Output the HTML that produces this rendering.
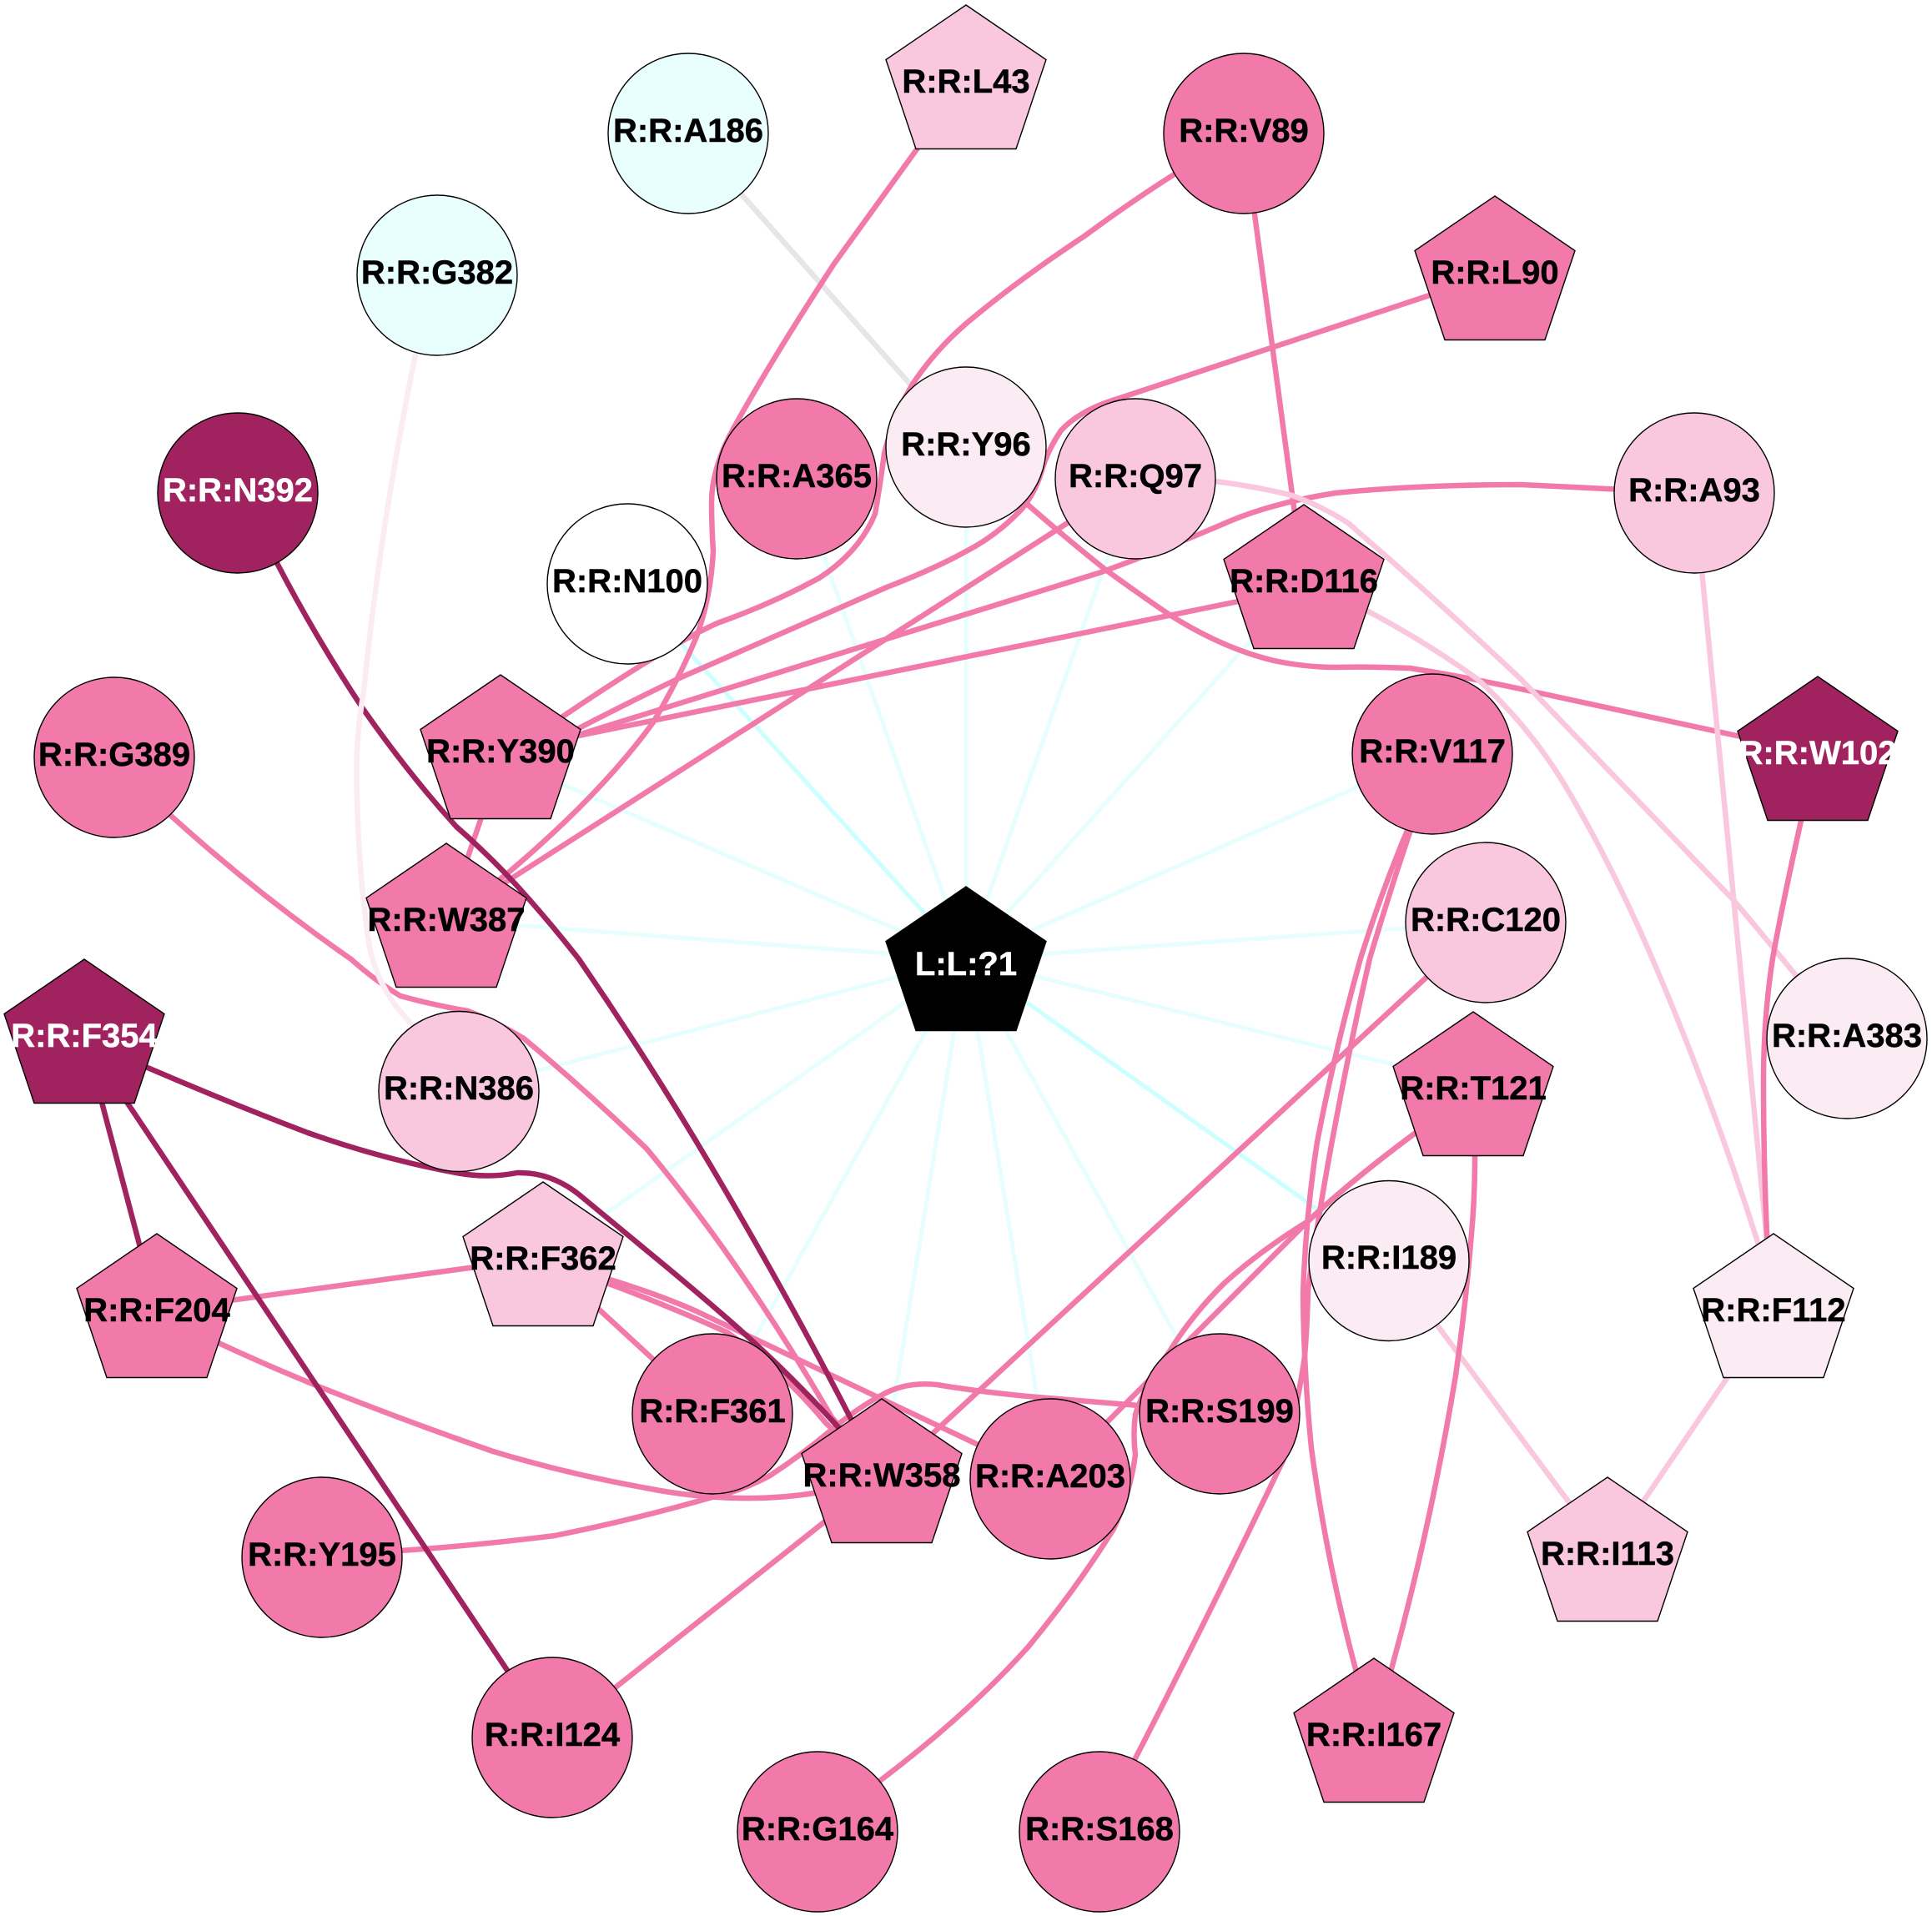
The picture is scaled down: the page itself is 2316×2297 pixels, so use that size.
<!DOCTYPE html>
<html><head><meta charset="utf-8"><style>
html,body{margin:0;padding:0;background:#fff}
svg{display:block}
text{font-family:"Liberation Sans",sans-serif;font-weight:bold;font-size:40px;text-anchor:middle;fill:#000;stroke:#000;stroke-width:.5}
.w{fill:#fff;stroke:#fff}
.e path,.e line{fill:none;stroke-linecap:butt;stroke-linejoin:round}
.c{stroke:#e6fffe;stroke-width:5}
.cs{stroke:#ccffff;stroke-width:5}
.p{stroke:#f27aaa;stroke-width:6.5}
.l{stroke:#f9c8de;stroke-width:6.5}
.v{stroke:#fbecf4;stroke-width:6.5}
.d{stroke:#a0235f;stroke-width:6.5}
.g{stroke:#e6e6e6;stroke-width:6.5}
.n circle,.n polygon{stroke:#000;stroke-width:1.4}
</style></head><body>
<svg width="2316" height="2297" viewBox="0 0 2316 2297" xmlns="http://www.w3.org/2000/svg">
<g class="e">
<line class="c" x1="1158" y1="1150" x2="955" y2="574"/>
<line class="cs" x1="1158" y1="1150" x2="752" y2="700"/>
<line class="c" x1="1158" y1="1150" x2="1158" y2="536"/>
<line class="c" x1="1158" y1="1150" x2="1361" y2="574"/>
<line class="c" x1="1158" y1="1150" x2="1563" y2="697"/>
<line class="c" x1="1158" y1="1150" x2="1717" y2="904"/>
<line class="c" x1="1158" y1="1150" x2="1781" y2="1106"/>
<line class="c" x1="1158" y1="1150" x2="1766" y2="1300"/>
<line class="cs" x1="1158" y1="1150" x2="1665" y2="1511"/>
<line class="c" x1="1158" y1="1150" x2="1462" y2="1695"/>
<line class="c" x1="1158" y1="1150" x2="1259" y2="1773"/>
<line class="c" x1="1158" y1="1150" x2="1057" y2="1770"/>
<line class="c" x1="1158" y1="1150" x2="854" y2="1695"/>
<line class="c" x1="1158" y1="1150" x2="651" y2="1508"/>
<line class="c" x1="1158" y1="1150" x2="550" y2="1308"/>
<line class="c" x1="1158" y1="1150" x2="535" y2="1103"/>
<line class="c" x1="1158" y1="1150" x2="600" y2="908"/>

<line class="g" x1="824" y1="160" x2="1158" y2="536"/>
<path class="p" d="M1158 90 L1099 179 L1000 316 Q925 431 879 514 Q853 562 853 602 Q853 632 855 661 Q852 717 835 763 Q815 812 783 866 Q720 953 606 1049 L535 1103"/>
<path class="p" d="M1491 160 Q1400 209 1300 283 Q1220 336 1158 388 Q1120 421 1093 462 Q1070 501 1060 544 Q1055 582 1049 616 Q1030 662 982 693 Q925 724 860 747 Q800 774 676 858 L600 913"/>
<path class="p" d="M1792 328 L1343 477 Q1295 491 1272 516 Q1255 541 1248 567 Q1240 592 1225 610 Q1195 642 1158 661 Q1120 682 1063 704 L812 814 Q750 844 694 873 L600 913"/>
<path class="p" d="M2031 591 Q1935 586 1823 581 Q1700 581 1601 591 Q1530 602 1476 624 Q1400 657 1320 686 L600 910"/>
<line class="p" x1="1563" y1="705" x2="600" y2="901"/>
<line class="p" x1="1361" y1="575" x2="535" y2="1103"/>
<line class="p" x1="600" y1="913" x2="535" y2="1103"/>
<line class="p" x1="1491" y1="160" x2="1563" y2="697"/>
<path class="p" d="M1158 536 L1232 605 Q1280 647 1324 682 Q1365 712 1402 737 Q1465 777 1527 792 Q1565 800 1601 800 Q1645 799 1690 801 Q1760 812 1837 829 L2179 903"/>
<path class="l" d="M1361 575 L1457 577 Q1510 584 1549 594 Q1585 607 1616 627 Q1720 717 1823 814 L2077 1078 Q2115 1122 2214 1245"/>
<path class="l" d="M1563 697 L1642 734 Q1710 770 1771 814 Q1830 867 1874 938 Q1930 1032 1978 1143 Q2050 1310 2107 1489 L2126 1570"/>
<line class="l" x1="2031" y1="591" x2="2126" y2="1570"/>
<path class="p" d="M2179 903 L2159 984 Q2135 1092 2125 1149 Q2114 1220 2114 1296 Q2114 1390 2118 1479 L2126 1570"/>
<line class="l" x1="2126" y1="1570" x2="1927" y2="1863"/>
<line class="l" x1="1665" y1="1511" x2="1927" y2="1863"/>
<path class="p" d="M1766 1300 L1768 1386 Q1768 1435 1764 1479 Q1757 1565 1745 1649 Q1715 1830 1668 2001 L1647 2080"/>
<path class="p" d="M1717 904 L1686 998 Q1655 1072 1631 1149 Q1600 1260 1579 1369 Q1565 1460 1562 1552 Q1563 1645 1572 1736 Q1590 1870 1625 2001 L1647 2080"/>
<path class="p" d="M1717 904 L1690 998 Q1665 1072 1642 1149 Q1620 1245 1601 1346 Q1582 1445 1568 1546 Q1567 1590 1564 1626 Q1555 1690 1538 1751 Q1450 1935 1361 2108 L1318 2196"/>
<path class="p" d="M1766 1300 L1697 1358 Q1620 1415 1568 1464 L1259 1773"/>
<path class="p" d="M1766 1300 L1697 1358 Q1620 1415 1568 1464 Q1510 1500 1468 1538 Q1430 1575 1402 1620 Q1370 1665 1361 1696 Q1358 1720 1361 1744 Q1355 1790 1335 1833 Q1290 1905 1232 1975 Q1160 2055 1056 2134 L980 2196"/>
<line class="p" x1="1781" y1="1106" x2="1057" y2="1775"/>
<path class="p" d="M1462 1695 L1365 1685 L1232 1674 Q1170 1668 1123 1660 Q1085 1656 1056 1673 Q1025 1690 997 1714 Q960 1745 923 1769 Q890 1787 857 1794 Q760 1822 665 1841 Q570 1853 480 1859 L386 1867"/>
<path class="p" d="M188 1571 L262 1610 Q320 1637 384 1663 Q490 1705 591 1740 Q680 1767 775 1784 Q830 1795 886 1796 Q935 1797 982 1789 L1057 1770"/>
<line class="p" x1="188" y1="1571" x2="651" y2="1508"/>
<path class="p" d="M137 908 L205 978 Q310 1073 421 1150 Q450 1176 480 1194 Q520 1205 561 1212 Q595 1225 628 1245 Q700 1305 775 1377 Q890 1515 997 1699 L1057 1770"/>
<line class="p" x1="651" y1="1508" x2="854" y2="1695"/>
<path class="p" d="M651 1508 L727 1538 Q800 1565 871 1597 Q935 1640 990 1706 L1057 1770"/>
<path class="p" d="M651 1508 L731 1534 Q790 1552 835 1572 L1259 1773"/>
<line class="p" x1="1057" y1="1770" x2="662" y2="2083"/>
<line class="d" x1="101" y1="1242" x2="188" y2="1571"/>
<line class="d" x1="101" y1="1245" x2="662" y2="2083"/>
<path class="d" d="M101 1242 L177 1280 Q275 1322 369 1358 Q460 1390 547 1406 Q585 1413 620 1406 Q660 1405 694 1432 L775 1499 Q825 1540 871 1580 Q940 1640 1004 1710 L1057 1770"/>
<path class="d" d="M285 591 L332 675 Q380 767 436 851 Q490 928 547 991 Q595 1033 635 1079 Q665 1113 694 1150 Q780 1275 857 1406 Q945 1555 1019 1699 L1057 1770"/>
<path class="v" d="M524 330 L498 425 Q455 637 436 829 Q425 892 428 953 Q430 1052 443 1136 Q455 1190 493 1227 L550 1308"/>
</g>
<g class="n">
<circle cx="825" cy="160" r="96" fill="#e8fffe"/>
<circle cx="524" cy="330" r="96" fill="#e8fffe"/>
<circle cx="285" cy="591" r="96" fill="#a0235f"/>
<circle cx="955" cy="574" r="96" fill="#f27aaa"/>
<circle cx="752" cy="700" r="96" fill="#ffffff"/>
<circle cx="137" cy="908" r="96" fill="#f27aaa"/>
<circle cx="1158" cy="536" r="96" fill="#fbecf4"/>
<circle cx="1491" cy="160" r="96" fill="#f27aaa"/>
<circle cx="1361" cy="574" r="96" fill="#f9c8de"/>
<circle cx="2031" cy="591" r="96" fill="#f9c8de"/>
<circle cx="1717" cy="904" r="96" fill="#f27aaa"/>
<circle cx="1781" cy="1106" r="96" fill="#f9c8de"/>
<circle cx="550" cy="1308.5" r="96" fill="#f9c8de"/>
<circle cx="854" cy="1695" r="96" fill="#f27aaa"/>
<circle cx="386" cy="1867" r="96" fill="#f27aaa"/>
<circle cx="662" cy="2083" r="96" fill="#f27aaa"/>
<circle cx="980" cy="2196" r="96" fill="#f27aaa"/>
<circle cx="2214" cy="1245" r="96" fill="#fbecf4"/>
<circle cx="1665" cy="1511.5" r="96" fill="#fbecf4"/>
<circle cx="1462" cy="1695" r="96" fill="#f27aaa"/>
<circle cx="1259" cy="1773" r="96" fill="#f27aaa"/>
<circle cx="1318" cy="2196" r="96" fill="#f27aaa"/>
<polygon points="1158,6 1254,71.5 1218,178.5 1098,178.5 1062,71.5" fill="#f9c8de"/>
<polygon points="1792,235 1888,300.5 1852,407.5 1732,407.5 1696,300.5" fill="#f27aaa"/>
<polygon points="600,809 696,874.5 660,981.5 540,981.5 504,874.5" fill="#f27aaa"/>
<polygon points="535,1011 631,1076.5 595,1183.5 475,1183.5 439,1076.5" fill="#f27aaa"/>
<polygon points="1563,605 1659,670.5 1623,777.5 1503,777.5 1467,670.5" fill="#f27aaa"/>
<polygon points="2179,811 2275,876.5 2239,983.5 2119,983.5 2083,876.5" fill="#a0235f"/>
<polygon points="1158,1063 1254,1128.5 1218,1235.5 1098,1235.5 1062,1128.5" fill="#000"/>
<polygon points="101,1150 197,1215.5 161,1322.5 41,1322.5 5,1215.5" fill="#a0235f"/>
<polygon points="651,1417 747,1482.5 711,1589.5 591,1589.5 555,1482.5" fill="#f9c8de"/>
<polygon points="188,1479 284,1544.5 248,1651.5 128,1651.5 92,1544.5" fill="#f27aaa"/>
<polygon points="1057,1677 1153,1742.5 1117,1849.5 997,1849.5 961,1742.5" fill="#f27aaa"/>
<polygon points="1766,1213 1862,1278.5 1826,1385.5 1706,1385.5 1670,1278.5" fill="#f27aaa"/>
<polygon points="2126,1479 2222,1544.5 2186,1651.5 2066,1651.5 2030,1544.5" fill="#fbecf4"/>
<polygon points="1927,1771 2023,1836.5 1987,1943.5 1867,1943.5 1831,1836.5" fill="#f9c8de"/>
<polygon points="1647,1988 1743,2053.5 1707,2160.5 1587,2160.5 1551,2053.5" fill="#f27aaa"/>
</g>
<g>
<text x="825" y="170">R:R:A186</text>
<text x="524" y="340">R:R:G382</text>
<text class="w" x="285" y="601">R:R:N392</text>
<text x="955" y="584">R:R:A365</text>
<text x="752" y="710">R:R:N100</text>
<text x="137" y="918">R:R:G389</text>
<text x="1158" y="546">R:R:Y96</text>
<text x="1491" y="170">R:R:V89</text>
<text x="1361" y="584">R:R:Q97</text>
<text x="2031" y="601">R:R:A93</text>
<text x="1717" y="914">R:R:V117</text>
<text x="1781" y="1116">R:R:C120</text>
<text x="550" y="1318">R:R:N386</text>
<text x="854" y="1705">R:R:F361</text>
<text x="386" y="1877">R:R:Y195</text>
<text x="662" y="2093">R:R:I124</text>
<text x="980" y="2206">R:R:G164</text>
<text x="2214" y="1255">R:R:A383</text>
<text x="1665" y="1521">R:R:I189</text>
<text x="1462" y="1705">R:R:S199</text>
<text x="1259" y="1783">R:R:A203</text>
<text x="1318" y="2206">R:R:S168</text>
<text x="1158" y="111">R:R:L43</text>
<text x="1792" y="340">R:R:L90</text>
<text x="600" y="914">R:R:Y390</text>
<text x="535" y="1116">R:R:W387</text>
<text x="1563" y="710">R:R:D116</text>
<text class="w" x="2179" y="916">R:R:W102</text>
<text class="w" x="1158" y="1169">L:L:?1</text>
<text class="w" x="101" y="1255">R:R:F354</text>
<text x="651" y="1522">R:R:F362</text>
<text x="188" y="1584">R:R:F204</text>
<text x="1057" y="1782">R:R:W358</text>
<text x="1766" y="1318">R:R:T121</text>
<text x="2126" y="1584">R:R:F112</text>
<text x="1927" y="1876">R:R:I113</text>
<text x="1647" y="2093">R:R:I167</text>
</g>
</svg>
</body></html>
